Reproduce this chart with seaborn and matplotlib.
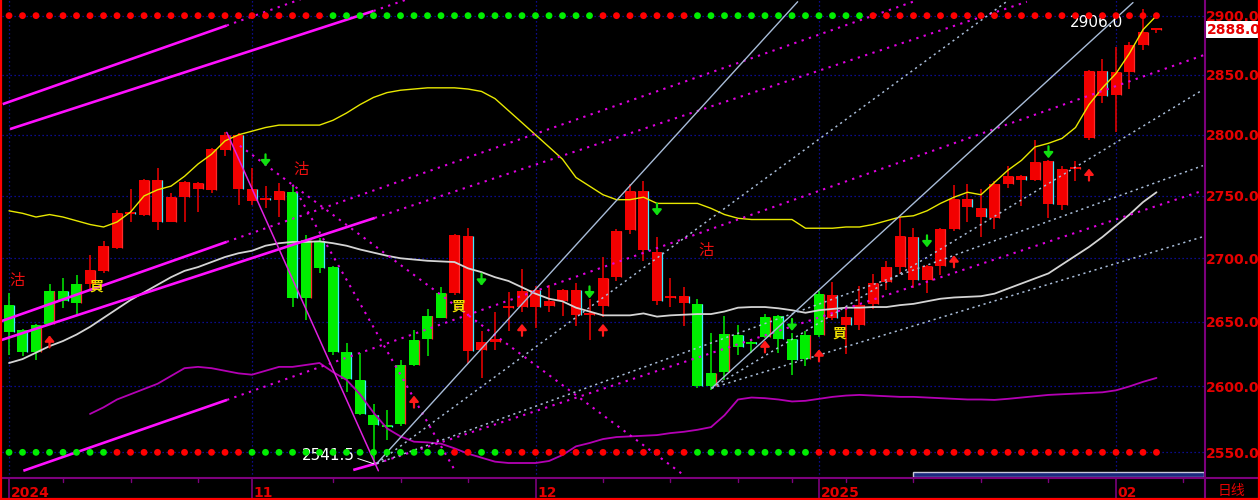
import numpy as np
import pandas as pd
import matplotlib
matplotlib.use("Agg")
import matplotlib.pyplot as plt
import matplotlib.transforms as mtransforms
from matplotlib.patches import Rectangle
from matplotlib.lines import Line2D
from matplotlib.ticker import NullLocator
import seaborn as sns

# ---------------- daily OHLC ----------------
opens = [2663.2, 2643.7, 2626.5, 2648.1, 2674.3, 2664.6, 2679.8, 2689.6, 2708.2, 2737.3,
         2734.7, 2763.3, 2729.3, 2749.1, 2755.7, 2754.5, 2787.8, 2800.0, 2755.4, 2747.2,
         2746.9, 2753.2, 2668.5, 2713.5, 2693.1, 2626.2, 2605.1, 2578.1, 2570.6, 2571.4,
         2616.7, 2636.5, 2653.2, 2672.5, 2718.0, 2627.7, 2633.9, 2661.1, 2661.9, 2675.1,
         2662.7, 2666.6, 2674.5, 2655.2, 2662.7, 2685.2, 2722.2, 2753.7, 2705.0, 2668.2,
         2670.3, 2663.9, 2600.0, 2610.8, 2639.8, 2632.9, 2638.5, 2654.5, 2636.7, 2621.3,
         2639.8, 2671.1, 2653.5, 2647.5, 2663.9, 2680.9, 2693.1, 2716.9, 2683.0, 2693.6,
         2723.3, 2747.7, 2740.1, 2732.0, 2759.8, 2766.5, 2762.7, 2778.8, 2742.9, 2772.3,
         2797.3, 2852.8, 2833.2, 2852.0, 2874.7, 2887.8]
highs = [2672.5, 2644.5, 2648.5, 2679.8, 2684.6, 2686.8, 2702.8, 2713.5, 2738.8, 2755.9,
         2764.0, 2772.8, 2752.6, 2762.0, 2761.5, 2789.0, 2801.9, 2801.5, 2772.8, 2757.8,
         2760.6, 2759.2, 2718.8, 2716.2, 2694.0, 2633.4, 2625.7, 2586.6, 2581.7, 2620.5,
         2643.7, 2659.7, 2677.0, 2719.6, 2724.1, 2642.4, 2657.9, 2673.3, 2691.5, 2677.7,
         2679.0, 2676.0, 2680.4, 2667.9, 2700.7, 2723.0, 2760.0, 2761.9, 2716.9, 2684.0,
         2677.0, 2667.9, 2641.1, 2654.5, 2647.5, 2636.5, 2655.8, 2655.5, 2641.1, 2642.4,
         2673.8, 2681.2, 2662.4, 2678.3, 2687.5, 2697.6, 2733.3, 2724.1, 2694.5, 2724.0,
         2758.6, 2759.8, 2755.7, 2762.4, 2774.7, 2767.0, 2795.4, 2779.5, 2774.7, 2778.8,
         2853.7, 2863.5, 2873.1, 2877.6, 2906.0, 2888.5]
lows = [2624.4, 2623.1, 2620.0, 2647.5, 2660.6, 2655.2, 2675.1, 2688.5, 2707.5, 2729.3,
        2734.0, 2722.7, 2729.0, 2729.3, 2737.4, 2752.4, 2782.9, 2742.3, 2742.8, 2740.0,
        2733.3, 2661.4, 2651.4, 2688.4, 2624.4, 2596.1, 2578.1, 2541.5, 2559.3, 2570.0,
        2615.4, 2623.1, 2652.7, 2671.1, 2618.0, 2606.4, 2628.2, 2642.4, 2657.9, 2645.0,
        2657.4, 2654.5, 2647.0, 2636.0, 2653.9, 2681.8, 2719.6, 2697.6, 2663.2, 2661.9,
        2647.0, 2598.7, 2597.4, 2605.1, 2624.4, 2625.7, 2637.5, 2625.7, 2609.0, 2615.4,
        2638.5, 2651.4, 2625.2, 2643.7, 2659.7, 2675.1, 2687.8, 2676.5, 2672.7, 2687.0,
        2721.9, 2729.3, 2716.6, 2723.5, 2756.5, 2741.5, 2761.9, 2732.5, 2739.0, 2761.9,
        2795.9, 2826.2, 2802.7, 2838.0, 2870.5, 2885.2]
closes = [2641.9, 2626.5, 2647.5, 2674.3, 2666.4, 2679.8, 2690.9, 2709.5, 2736.6, 2735.2,
          2763.3, 2729.3, 2749.1, 2761.1, 2760.6, 2788.3, 2799.5, 2755.4, 2746.1, 2746.9,
          2754.3, 2668.5, 2714.2, 2692.3, 2626.5, 2605.7, 2578.9, 2570.6, 2569.0, 2616.7,
          2636.0, 2654.5, 2672.5, 2718.8, 2627.0, 2634.2, 2636.7, 2661.4, 2674.3, 2661.9,
          2666.4, 2675.1, 2655.2, 2655.5, 2684.0, 2722.0, 2753.7, 2706.3, 2666.6, 2670.3,
          2664.6, 2600.0, 2610.3, 2640.6, 2630.0, 2632.5, 2653.9, 2636.7, 2620.5, 2639.8,
          2671.9, 2653.2, 2647.5, 2663.2, 2680.4, 2692.8, 2718.0, 2682.5, 2693.6, 2723.3,
          2747.7, 2741.0, 2732.8, 2759.8, 2766.5, 2762.7, 2777.7, 2743.7, 2772.3, 2772.6,
          2852.8, 2831.8, 2852.0, 2874.7, 2885.7, 2888.0]

# trend-state colouring of bodies and of the two signal dot rows (R / G)
body_state = "GGGGGG" "RRRRRRRRRRRRRRR" "GGGGGGGGGGGG" "RRRRRRRRRRRRRRRRRR" "GGGGGGGGGG" "RRRRRRRRRRRRRRRRRRRRRRRRR"
top_signal = "RRRRRRRRRRRRRRRRRRRRRRRR" "GGGGGGGGGGGGGGGGGGGG" "RRRRRRR" "GGGGGGGGGGGGG" "RRRRRRRRRRRRRRRRRRRRRR"
bottom_signal = "GGGGGGGG" "RRRRRRRRRR" "GGGGGGGGGGGGGGG" "RR" "GG" "RRRRRRRRRRRRRR" "GGGGGGGGG" "RRRRRRRRRRRRRRRRRRRRRRRRRR"
top_signal_level = 2900
bottom_signal_level = 2550

# ---------------- band lines ----------------
upper_band = [2738, 2736, 2733, 2735, 2733, 2730, 2727, 2725, 2729, 2737,
              2750, 2755, 2758, 2766, 2776, 2784, 2795, 2800, 2803, 2806,
              2808, 2808, 2808, 2808, 2812, 2818, 2825, 2831, 2835, 2837,
              2838, 2839, 2839, 2839, 2838, 2836, 2830, 2820, 2810, 2800,
              2790, 2780, 2765, 2758, 2751, 2747, 2747, 2749, 2744, 2744,
              2744, 2744, 2740, 2735, 2732, 2731, 2731, 2731, 2731, 2724,
              2724, 2724, 2725, 2725, 2727, 2730, 2733, 2734, 2738, 2744,
              2749, 2753, 2751, 2761, 2771, 2779, 2790, 2793, 2797, 2806,
              2825, 2839, 2851, 2868, 2888, 2900]
mid_band = [2618, 2621, 2626, 2631, 2635, 2640, 2646, 2653, 2660, 2667,
            2673, 2679, 2685, 2690, 2693, 2697, 2701, 2704, 2706, 2710,
            2712, 2713, 2713, 2713.5, 2712, 2710, 2707, 2704.5, 2702, 2700,
            2699, 2698, 2697.5, 2697, 2692, 2689, 2685, 2682, 2677, 2672,
            2668, 2666, 2661, 2658, 2655, 2655, 2655, 2656.5, 2654, 2655,
            2655.5, 2656, 2656, 2658, 2661, 2661.5, 2661.5, 2660.5, 2659, 2657,
            2659, 2660, 2661, 2661, 2661.5, 2661.5, 2663, 2664, 2666, 2668,
            2669, 2669.5, 2670, 2672, 2676, 2680, 2684, 2688, 2695, 2702,
            2709, 2717, 2726, 2735, 2745, 2753]
lower_band_start = 6
lower_band = [2579, 2584, 2590, 2594, 2598, 2602, 2608, 2614, 2615, 2614,
              2612, 2610, 2609, 2612, 2615, 2615, 2616.5, 2618, 2611, 2605,
              2594, 2580, 2568, 2562, 2558, 2557.5, 2556.5, 2553, 2549, 2546,
              2543, 2542, 2542, 2542, 2543.5, 2548, 2554.5, 2557, 2560, 2561.5,
              2562, 2562.5, 2563, 2564.5, 2565.5, 2567, 2569, 2578, 2590, 2591.5,
              2591, 2590, 2588.5, 2589, 2590.5, 2592, 2593, 2593.5, 2593, 2592.5,
              2592, 2592, 2591.5, 2591, 2590.5, 2590, 2590, 2589.7, 2590.5, 2591.5,
              2592.5, 2593.5, 2594, 2594.5, 2595, 2595.5, 2597, 2600, 2603.5, 2606.5]

# ---------------- drawn trend lines (bar index, price) ----------------
channel_solid = [[(-0.47, 2825.4), (16.13, 2891.6)],
                 [(0.07, 2804.7), (27.0, 2904.0)],
                 [(-0.67, 2650.1), (16.13, 2713.1)],
                 [(-0.67, 2635.4), (27.1, 2732.3)],
                 [(1.06, 2536.2), (16.15, 2589.7)],
                 [(25.5, 2536.8), (27.24, 2541.8)]]
channel_dotted = [[(16.13, 2891.6), (21.6, 2914.0)],
                  [(27.0, 2904.0), (29.5, 2914.0)],
                  [(16.13, 2713.1), (66.96, 2911.9)],
                  [(27.1, 2732.3), (75.4, 2911.9)],
                  [(16.15, 2589.7), (88.6, 2866.9)],
                  [(27.24, 2541.6), (88.44, 2754.3)],
                  [(17.1, 2791.0), (50.07, 2532.3)],
                  [(21.0, 2759.2), (33.04, 2536.2)]]
drop_line = [(16.13, 2802.0), (27.36, 2536.2)]
fan_solid = [[(27.24, 2541.6), (58.42, 2911.9)],
             [(52.05, 2598.7), (83.26, 2911.2)]]
fan_dotted = [[(27.24, 2541.6), (74.06, 2913.4)],
              [(27.24, 2541.6), (88.44, 2774.7)],
              [(52.05, 2598.7), (88.44, 2837.4)],
              [(52.05, 2598.7), (88.44, 2717.2)]]

# ---------------- signals ----------------
buy_up_arrows = [(3, 2634.7), (30, 2588.4), (38, 2643.7), (44, 2643.7),
                 (56, 2630.8), (60, 2623.9), (70, 2697.6), (80, 2767.4)]
sell_down_arrows = [(19, 2779.0), (35, 2683.0), (43, 2673.0), (48, 2739.0),
                    (58, 2647.5), (68, 2713.5), (77, 2785.6)]
sell_marks = [(0.6, 2682.6), (21.6, 2771.4), (51.6, 2706.1)]
buy_marks = [(6.5, 2677.6), (33.3, 2661.6), (61.5, 2641.1)]

# ---------------- axes text ----------------
price_ticks = [2550, 2600, 2650, 2700, 2750, 2800, 2850, 2900]
month_start = [0, 18, 39, 60, 82]
month_labels = ["2024", "11", "12", "2025", "02"]
week_ticks = [4, 9, 14, 24, 29, 34, 44, 49, 54, 58, 62, 67, 72, 77, 87]
period_label = "日线"

# ---------------- styling ----------------
RED = "#f20000"
GREEN = "#00ee00"
TXT_RED = "#e60000"
PURPLE = "#7c007c"
GRID = "#1010b8"

sns.set_theme(style="dark", rc={"axes.facecolor": "black", "figure.facecolor": "black",
                                "axes.grid": False})
plt.rcParams["font.family"] = ["DejaVu Sans", "Noto Sans CJK SC"]

W, H = 1260, 500
fig = plt.figure(figsize=(W / 100, H / 100), dpi=100, facecolor="black")
ax = fig.add_axes([2 / W, 22 / H, 1202 / W, 478 / H])
ax.set_facecolor("black")
ax.set_yscale("log")
ax.set_xlim(-0.52, 88.52)
ax.set_ylim(2530.8, 2913.4)
for s in ax.spines.values():
    s.set_visible(False)

n = len(closes)
df = pd.DataFrame({"i": np.arange(n), "open": opens, "high": highs, "low": lows,
                   "close": closes, "state": list(body_state)})
df["bottom"] = df[["open", "close"]].min(axis=1)
df["top"] = df[["open", "close"]].max(axis=1)
df["height"] = np.maximum(df["top"] - df["bottom"], 1.6)
df["fill"] = np.where(df["state"] == "R", RED, GREEN)
df["edge"] = np.where(df["close"] < df["open"], "#40e8ff", "#ff2a2a")

# grid
for t in price_ticks:
    ax.axhline(t, color=GRID, lw=0.9, ls=(0, (1, 2.2)), zorder=0)
for m in month_start:
    ax.axvline(m, color=GRID, lw=0.9, ls=(0, (1, 2.2)), zorder=0)

# candles
body_w = 0.78
ax.vlines(df["i"], df["low"], df["high"], colors=df["fill"], lw=1.1, zorder=2)
ax.bar(df["i"], df["height"], bottom=df["bottom"], width=body_w, color=df["fill"],
       linewidth=0, zorder=3)
ax.vlines(df["i"] + body_w / 2 - 0.03, df["bottom"], df["bottom"] + df["height"],
          colors=df["edge"], lw=0.9, zorder=3.5)

# band lines
sns.lineplot(x=np.arange(n), y=upper_band, color="#e8e800", lw=1.0, ax=ax, zorder=4)
sns.lineplot(x=np.arange(n), y=mid_band, color="#d4d4d4", lw=1.3, ax=ax, zorder=4)
sns.lineplot(x=np.arange(lower_band_start, lower_band_start + len(lower_band)), y=lower_band,
             color="#b400b4", lw=1.3, ax=ax, zorder=4)

# trend lines
def seg(pts, **kw):
    xs, ys = zip(*pts)
    ax.plot(xs, ys, **kw)

for s in channel_solid:
    seg(s, color="#ff10ff", lw=1.9, zorder=4.5, solid_capstyle="butt")
for s in channel_dotted:
    seg(s, color="#e000e0", lw=1.5, ls=(0, (1.1, 2.6)), zorder=4.5)
seg(drop_line, color="#e020e0", lw=1.1, zorder=4.5)
for s in fan_solid:
    seg(s, color="#a8bcd8", lw=1.0, zorder=4.5)
for s in fan_dotted:
    seg(s, color="#a8bcd8", lw=1.1, ls=(0, (1.4, 2.4)), zorder=4.5)

# signal dot rows
dots = pd.DataFrame({"i": np.arange(n),
                     "top": [top_signal_level] * n, "bottom": [bottom_signal_level] * n,
                     "ts": list(top_signal), "bs": list(bottom_signal)})
pal = {"R": "#ff0000", "G": "#00ee00"}
sns.scatterplot(data=dots, x="i", y="top", hue="ts", palette=pal, s=24, linewidth=0,
                legend=False, ax=ax, zorder=7)
sns.scatterplot(data=dots, x="i", y="bottom", hue="bs", palette=pal, s=24, linewidth=0,
                legend=False, ax=ax, zorder=7)

# arrows
def arrow(i, v, up, color):
    base = mtransforms.offset_copy(ax.transData, fig=fig, x=0, y=(6 if up else -6), units="dots")
    ax.annotate("", xy=(i, v), xycoords=base, xytext=(0, -12 if up else 12),
                textcoords="offset pixels",
                arrowprops=dict(arrowstyle="-|>,head_width=0.45,head_length=0.55",
                                mutation_scale=6, color=color, lw=1.6,
                                shrinkA=0, shrinkB=0), zorder=6)

for i, v in buy_up_arrows:
    arrow(i, v, True, "#ff1a1a")
for i, v in sell_down_arrows:
    arrow(i, v, False, "#10e010")

cjk = ["Noto Sans CJK SC", "DejaVu Sans"]
for i, v in sell_marks:
    ax.text(i, v, "沽", color="#ee1010", fontsize=11, ha="center", va="center",
            family=cjk, zorder=6)
for i, v in buy_marks:
    ax.text(i, v, "買", color="#f0e000", fontsize=10, ha="center", va="center",
            family=cjk, weight="bold", zorder=6)

# extreme labels
lo_i = int(np.argmin(lows))
ax.annotate(f"{lows[lo_i]:.1f}", xy=(lo_i, lows[lo_i]), xytext=(-19, 4),
            textcoords="offset pixels", ha="right", va="baseline", color="white",
            fontsize=11, zorder=5,
            arrowprops=dict(arrowstyle="-", color="white", lw=0.7, shrinkA=0, shrinkB=0,
                            relpos=(1.0, 0.35)))
hi_i = int(np.argmax(highs))
ax.annotate(f"{highs[hi_i]:.1f}", xy=(hi_i, highs[hi_i]), xytext=(-20, -18),
            textcoords="offset pixels", ha="right", va="baseline", color="white",
            fontsize=11, zorder=5)

# right price scale
ax.set_yticks(price_ticks, labels=[f"{t:.1f}" for t in price_ticks],
              fontweight="bold", color=TXT_RED, fontsize=10)
ax.yaxis.set_minor_locator(NullLocator())
ax.yaxis.tick_right()
ax.tick_params(axis="y", which="both", length=0, pad=1.5, labelcolor=TXT_RED)
ax.set_xticks([])
ax.set_xlabel("")
ax.set_ylabel("")

ax.annotate(f"{closes[-1]:.1f}", xy=(1.0, closes[-1]), xycoords=("axes fraction", "data"),
            xytext=(3, 0), textcoords="offset pixels", ha="left", va="center",
            color=TXT_RED, fontsize=10, fontweight="bold", annotation_clip=False,
            bbox=dict(boxstyle="square,pad=0.12", fc="white", ec="none"), zorder=10)

# month labels and ticks under the axis
bt = mtransforms.blended_transform_factory(ax.transData, ax.transAxes)
for m, lab in zip(month_start, month_labels):
    ax.text(m + 0.13, -19 / 478, lab, transform=bt, ha="left", va="baseline",
            color=TXT_RED, fontsize=10, fontweight="bold", clip_on=False)
    ax.plot([m, m], [0, -22 / 478], transform=bt, color=PURPLE, lw=1.2, clip_on=False)
for w in week_ticks:
    ax.plot([w, w], [0, -4 / 478], transform=bt, color=PURPLE, lw=1.0, clip_on=False)

# scroll bar
ax.add_patch(Rectangle((911 / 1202, 0.7 / 478), 291 / 1202, 5 / 478, transform=ax.transAxes,
                       fc="#1a2a80", ec="#c8c8d8", lw=1.0, clip_on=False, zorder=8))

# frame lines
fig.add_artist(Line2D([0, 1], [22 / H, 22 / H], transform=fig.transFigure, color=PURPLE, lw=1.5))
fig.add_artist(Line2D([1204.5 / W, 1204.5 / W], [0, 1], transform=fig.transFigure, color=PURPLE, lw=1.5))
fig.add_artist(Line2D([1 / W, 1 / W], [0, 1], transform=fig.transFigure, color="#ff0000", lw=1.6))
fig.add_artist(Line2D([1259 / W, 1259 / W], [0, 1], transform=fig.transFigure, color="#ff0000", lw=1.6))
fig.add_artist(Line2D([0, 1], [1 / H, 1 / H], transform=fig.transFigure, color="#ff0000", lw=1.6))

fig.text(1231 / W, 9 / H, period_label, color=TXT_RED, fontsize=10, ha="center", va="center",
         family=cjk)

fig.savefig("out.png", dpi=100, facecolor="black")
